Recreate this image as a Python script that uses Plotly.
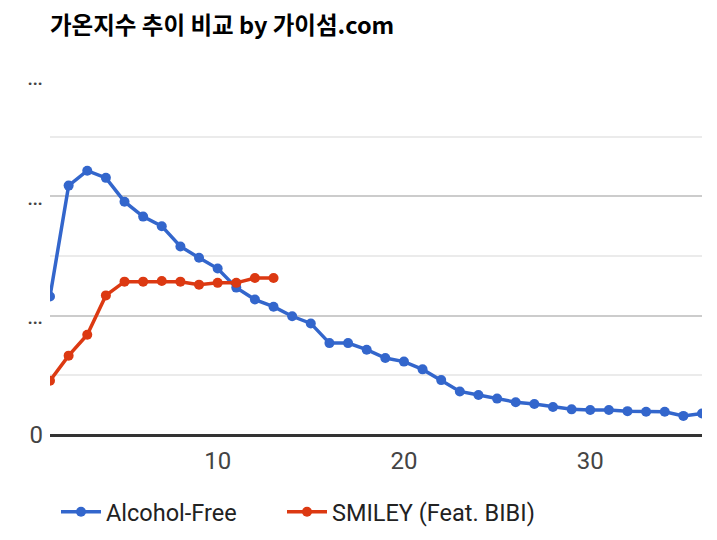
import plotly.graph_objects as go

weeks_a = list(range(1, 37))
alcohol_free = [2.32, 4.18, 4.43, 4.31, 3.91, 3.66, 3.50, 3.16, 2.97, 2.79, 2.47, 2.27,
                2.15, 1.99, 1.87, 1.54, 1.54, 1.43, 1.29, 1.23, 1.10, 0.92, 0.73, 0.67,
                0.61, 0.55, 0.52, 0.47, 0.43, 0.42, 0.42, 0.40, 0.39, 0.39, 0.32, 0.36]
weeks_s = list(range(1, 14))
smiley = [0.91, 1.33, 1.68, 2.34, 2.57, 2.57, 2.58, 2.57, 2.52, 2.55, 2.55, 2.63, 2.63]

y_major = [0, 2, 4, 6]
y_major_text = ["0", "…", "…", "…"]
x_ticks = [10, 20, 30]

# page body has an 8px margin; figure coordinates are offset accordingly
W, H = 701, 524
OFF = 8
plot_l, plot_r, plot_t, plot_b = 50 - OFF, 702 - OFF, 77 - OFF, 435 - OFF
plot_w, plot_h = plot_r - plot_l, plot_b - plot_t

fig = go.Figure()
fig.add_trace(go.Scatter(x=weeks_a, y=alcohol_free, mode="lines+markers", name="Alcohol-Free",
                         line=dict(color="#3366CC", width=3.5), marker=dict(size=10, color="#3366CC"),
                         legend="legend"))
fig.add_trace(go.Scatter(x=weeks_s, y=smiley, mode="lines+markers", name="SMILEY (Feat. BIBI)",
                         line=dict(color="#DC3912", width=3.5), marker=dict(size=10, color="#DC3912"),
                         legend="legend2"))

leg_common = dict(orientation="h", xanchor="left", y=-(512 - 435) / plot_h, yanchor="middle",
                  font=dict(size=23.5, color="#222"), itemwidth=40, bgcolor="rgba(0,0,0,0)")

fig.update_layout(
    width=W, height=H,
    margin=dict(l=plot_l, r=W - plot_r, t=plot_t, b=H - plot_b, autoexpand=False),
    paper_bgcolor="white", plot_bgcolor="white",
    font=dict(family="Roboto, Noto Sans CJK KR, sans-serif", color="#222"),
    title=dict(text="<b>가온지수 추이 비교 by 가이섬.com</b>", x=(50 - OFF) / W, xanchor="left",
               y=1 - (26 - OFF) / H, yanchor="middle",
               font=dict(family="Noto Sans CJK KR, Roboto, sans-serif", size=23.5, color="#000")),
    showlegend=True,
    legend=dict(x=6 / plot_w, **leg_common),
    legend2=dict(x=232 / plot_w, **leg_common),
    xaxis=dict(range=[1, 36], tickvals=x_ticks, showgrid=False, zeroline=False, automargin=False,
               showline=False, ticks="", tickfont=dict(size=24, color="#444"), ticklabelstandoff=9),
    yaxis=dict(range=[0, 6.0], tickvals=y_major, ticktext=y_major_text, showgrid=True, automargin=False,
               gridcolor="#CCCCCC", gridwidth=2, zeroline=True, zerolinecolor="#333333",
               zerolinewidth=2.5, ticks="", tickfont=dict(size=24, color="#444"), ticklabelstandoff=6,
               minor=dict(tickvals=[1, 3, 5], showgrid=True, gridcolor="#EBEBEB", gridwidth=2)),
)
fig.write_html("out.html")
